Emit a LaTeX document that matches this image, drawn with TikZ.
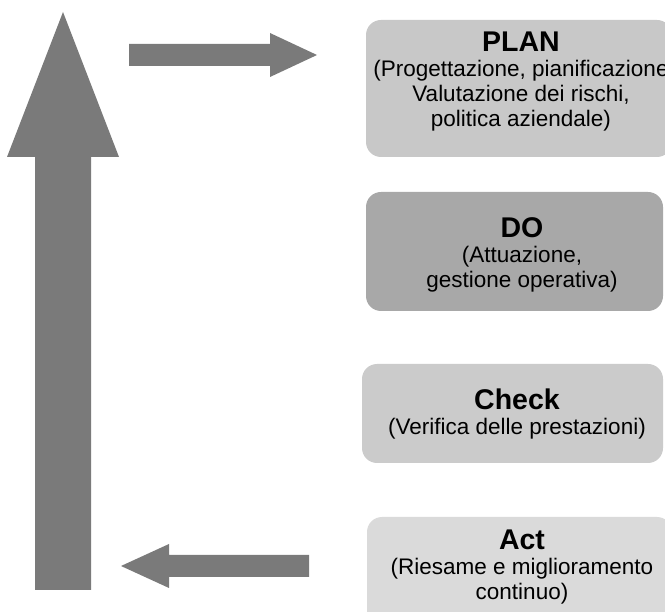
\documentclass[tikz,border=0pt]{standalone}
\usepackage{fontspec}
\setmainfont{Liberation Sans}
\definecolor{arrowgray}{HTML}{7A7A7A}
\definecolor{plangray}{HTML}{C8C8C8}
\definecolor{dogray}{HTML}{A8A8A8}
\definecolor{checkgray}{HTML}{CBCBCB}
\definecolor{actgray}{HTML}{DADADA}
\newcommand{\phasetitle}[1]{{\fontsize{28.5}{25}\selectfont\bfseries #1}}
\begin{document}
\begin{tikzpicture}[x=1pt,y=-1pt]
  % Define box and text styles
  \tikzstyle{phasebox} = [rectangle, rounded corners=15pt, inner sep=0pt]
  \tikzstyle{phasetext} = [align=center, inner sep=0pt,
  font=\fontsize{22.5}{25}\selectfont]
  \tikzstyle{blockarrow} = [fill=arrowgray]

  \useasboundingbox (0,0) rectangle (665,612);

  % Boxes
  \node[phasebox, fill=plangray, minimum width=306pt, minimum height=137pt]
  (plan) at (519,88.5) {};
  \node[phasebox, fill=dogray, minimum width=297pt, minimum height=119pt]
  (do) at (514.5,251.5) {};
  \node[phasebox, fill=checkgray, minimum width=301pt, minimum height=99pt]
  (check) at (512.5,413.5) {};
  \node[phasebox, fill=actgray, minimum width=305pt, minimum height=108pt]
  (act) at (519.5,571) {};

  % Texts
  \node[phasetext] (plantext) at (521,82) {\phasetitle{PLAN}\\
    (Progettazione, pianificazione\\Valutazione dei rischi,\\politica aziendale)};
  \node[phasetext] (dotext) at (522,255) {\phasetitle{DO}\\
    (Attuazione,\\gestione operativa)};
  \node[phasetext] (checktext) at (517,414.5) {\phasetitle{Check}\\
    (Verifica delle prestazioni)};
  \node[phasetext] (acttext) at (522,567.5) {\phasetitle{Act}\\
    (Riesame e miglioramento\\continuo)};

  % Arrows
  \fill[blockarrow] (35,590) -- (35,157) -- (7,157) -- (63,12)
  -- (119,157) -- (91,157) -- (91,590) -- cycle;
  \fill[blockarrow] (129,44) -- (270,44) -- (270,33) -- (317,55)
  -- (270,77) -- (270,66) -- (129,66) -- cycle;
  \fill[blockarrow] (309,555) -- (169,555) -- (169,544) -- (121,566)
  -- (169,588) -- (169,577) -- (309,577) -- cycle;
\end{tikzpicture}
\end{document}
